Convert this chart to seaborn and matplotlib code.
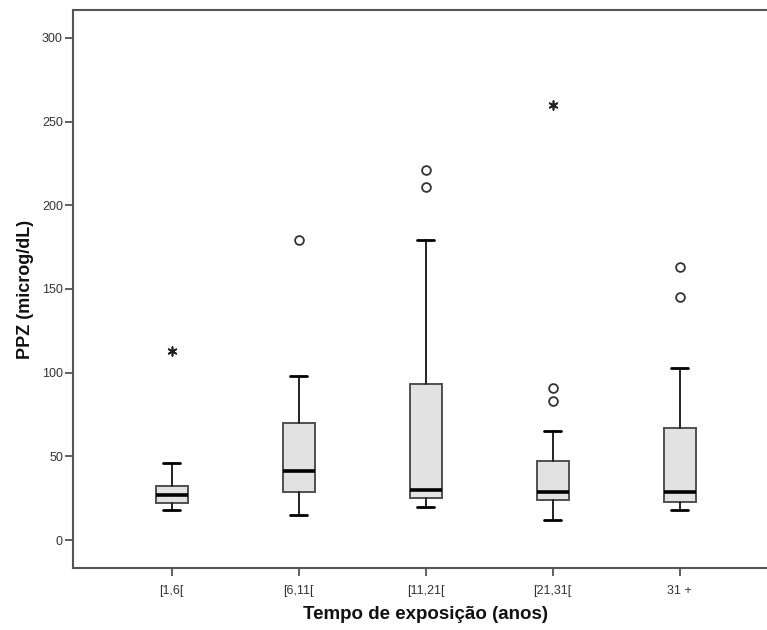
import matplotlib
matplotlib.use("Agg")
import matplotlib.pyplot as plt
import seaborn as sns
import pandas as pd

# Exposure-time groups and box summary statistics (PPZ, microg/dL)
categories = ["[1,6[", "[6,11[", "[11,21[", "[21,31[", "31 +"]
whisker_low = [18, 15, 20, 12, 18]
q1 = [22, 29, 25, 24, 23]
median = [27, 41, 30, 29, 29]
q3 = [32, 70, 93, 47, 67]
whisker_high = [46, 98, 179, 65, 103]

# Outliers (circles) and extreme values (asterisks) per group
outliers = [[], [179], [211, 221], [83, 91], [145, 163]]
extremes = [[113], [], [], [260], []]

y_ticks = [0, 50, 100, 150, 200, 250, 300]

sns.set_style("ticks")
plt.rcParams["font.family"] = ["Liberation Sans", "DejaVu Sans"]

fig = plt.figure(figsize=(7.67, 6.30), dpi=100)
ax = fig.add_axes([0.0956, 0.0984, 0.9188, 0.8858])

stats = []
for i, cat in enumerate(categories):
    stats.append({
        "label": cat,
        "whislo": whisker_low[i],
        "q1": q1[i],
        "med": median[i],
        "q3": q3[i],
        "whishi": whisker_high[i],
        "fliers": [],
    })

positions = list(range(len(categories)))
ax.bxp(
    stats,
    positions=positions,
    widths=0.25,
    patch_artist=True,
    showfliers=False,
    boxprops=dict(facecolor="#e2e2e2", edgecolor="#505050", linewidth=1.4),
    medianprops=dict(color="black", linewidth=2.6, solid_capstyle="butt"),
    whiskerprops=dict(color="#222222", linewidth=1.4),
    capprops=dict(color="black", linewidth=2.0),
    capwidths=0.13,
)

out_df = pd.DataFrame(
    [(i, v) for i, vals in enumerate(outliers) for v in vals], columns=["pos", "value"]
)
ext_df = pd.DataFrame(
    [(i, v) for i, vals in enumerate(extremes) for v in vals], columns=["pos", "value"]
)

sns.scatterplot(
    data=out_df, x="pos", y="value", ax=ax, marker="o", s=40,
    facecolor="white", edgecolor="#333333", linewidth=1.3, zorder=5,
)
sns.scatterplot(
    data=ext_df, x="pos", y="value", ax=ax, marker=(6, 2, 0), s=40,
    color="#222222", edgecolor="#222222", linewidth=1.2, zorder=5,
)

ax.set_xlim(-0.774, 4.774)
ax.set_ylim(-16.7, 316.7)
ax.set_xticks(positions)
ax.set_xticklabels(categories)
ax.set_yticks(y_ticks)
ax.set_yticklabels([str(t) for t in y_ticks])

for side in ["left", "bottom", "top"]:
    ax.spines[side].set_color("#555555")
    ax.spines[side].set_linewidth(1.5)
ax.spines["right"].set_visible(False)

ax.tick_params(axis="both", direction="out", length=5.5, width=1.2,
               color="#444444", labelcolor="#333333", labelsize=9, pad=2)
ax.tick_params(axis="x", pad=7)

ax.set_xlabel("Tempo de exposição (anos)", fontsize=13.5, fontweight="bold",
              color="#111111", labelpad=6)
ax.set_ylabel("PPZ (microg/dL)", fontsize=13, fontweight="bold",
              color="#111111", labelpad=6)

fig.savefig("out.png", dpi=100)
